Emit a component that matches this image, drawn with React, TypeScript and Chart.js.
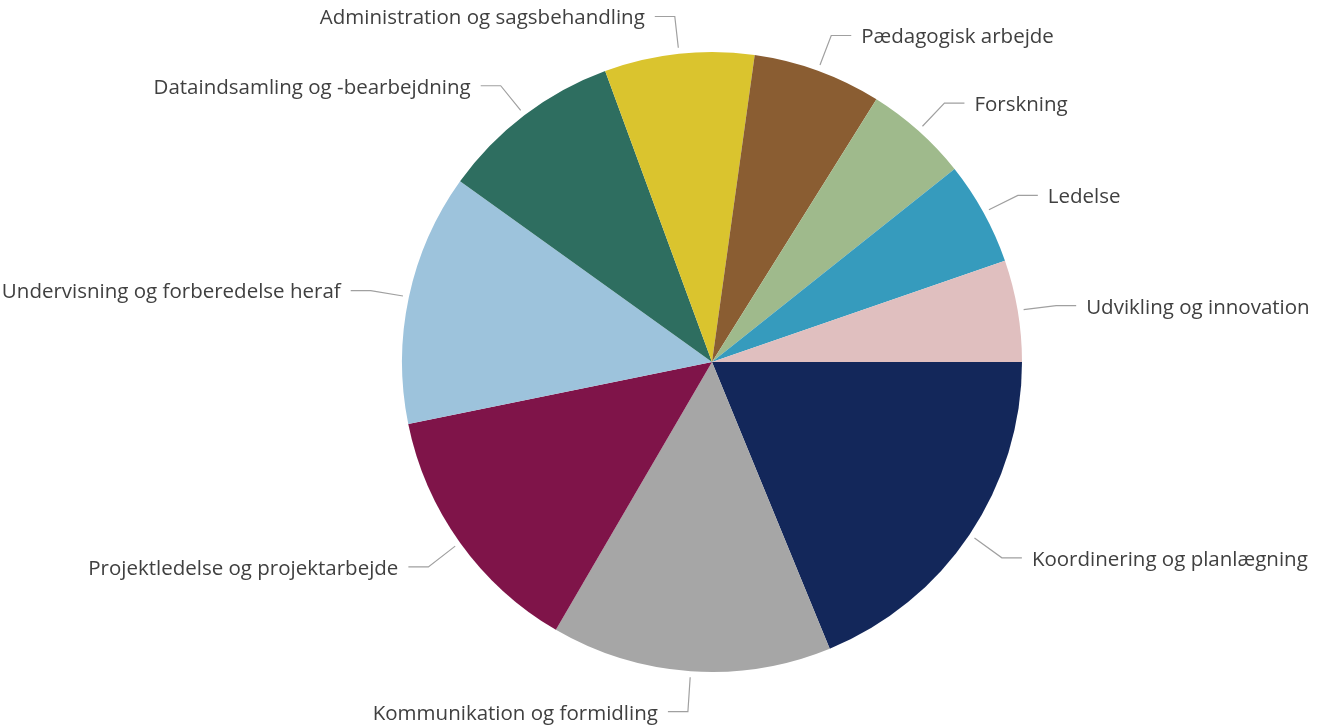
import React, { useEffect, useRef } from "react";
import { Chart, registerables } from "chart.js";

Chart.register(...registerables);

const categories = [
  "Koordinering og planlægning",
  "Kommunikation og formidling",
  "Projektledelse og projektarbejde",
  "Undervisning og forberedelse heraf",
  "Dataindsamling og -bearbejdning",
  "Administration og sagsbehandling",
  "Pædagogisk arbejde",
  "Forskning",
  "Ledelse",
  "Udvikling og innovation",
];

const values = [18.8, 14.6, 13.4, 13.1, 9.5, 7.8, 6.7, 5.4, 5.4, 5.3];

const colors = [
  "#13275A",
  "#A6A6A6",
  "#7F1449",
  "#9DC3DC",
  "#2E6E60",
  "#DAC42E",
  "#8A5D32",
  "#9FBA8C",
  "#369BBD",
  "#E0BFBF",
];

const labelPlugin = {
  id: "outerLabels",
  afterDraw(chart: any) {
    const ctx = chart.ctx;
    const meta = chart.getDatasetMeta(0);
    ctx.save();
    ctx.font = '20.5px "Open Sans"';
    ctx.fillStyle = "#404040";
    ctx.strokeStyle = "#A0A0A0";
    ctx.lineWidth = 1.2;
    ctx.textBaseline = "middle";
    meta.data.forEach((arc: any, i: number) => {
      const { x, y, startAngle, endAngle, outerRadius } = arc.getProps(
        ["x", "y", "startAngle", "endAngle", "outerRadius"],
        true
      );
      const mid = (startAngle + endAngle) / 2;
      const c = Math.cos(mid);
      const s = Math.sin(mid);
      const r0 = outerRadius + 6;
      const r1 = outerRadius + 39;
      const x0 = x + c * r0;
      const y0 = y + s * r0;
      const x1 = x + c * r1;
      const y1 = y + s * r1 + 1.5;
      const dir = c >= 0 ? 1 : -1;
      const x2 = x1 + dir * 20;
      ctx.beginPath();
      ctx.moveTo(x0, y0);
      ctx.lineTo(x1, y1);
      ctx.lineTo(x2, y1);
      ctx.stroke();
      ctx.textAlign = dir > 0 ? "left" : "right";
      ctx.fillText(chart.data.labels[i], x2 + dir * 10, y1 + 2);
    });
    ctx.restore();
  },
};

export default function App() {
  const ref = useRef<HTMLCanvasElement>(null);
  useEffect(() => {
    if (!ref.current) return;
    const chart = new Chart(ref.current, {
      type: "pie",
      data: {
        labels: categories,
        datasets: [
          {
            data: values,
            backgroundColor: colors,
            borderWidth: 0,
          },
        ],
      },
      options: {
        animation: false,
        responsive: false,
        rotation: 90,
        layout: { padding: { left: 402, right: 301, top: 52, bottom: 54 } },
        plugins: {
          legend: { display: false },
          tooltip: { enabled: false },
        },
      },
      plugins: [labelPlugin],
    });
    return () => chart.destroy();
  }, []);
  return (
    <div style={{ position: "fixed", left: 0, top: 0, width: 1323, height: 726, background: "#fff" }}>
      <canvas ref={ref} width={1323} height={726} style={{ width: 1323, height: 726 }} />
    </div>
  );
}
